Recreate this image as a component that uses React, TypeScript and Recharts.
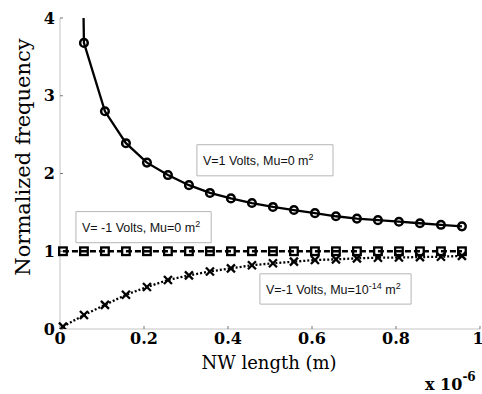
import React from "react";
import {
  LineChart,
  Line,
  XAxis,
  YAxis,
  ReferenceArea,
} from "recharts";

// NW length, in units of 1e-6 m
const lengths = [
  0.007, 0.057, 0.107, 0.157, 0.207, 0.257, 0.307, 0.357, 0.407, 0.457,
  0.507, 0.557, 0.607, 0.657, 0.707, 0.757, 0.807, 0.857, 0.907, 0.957,
];
// V=1 Volts, Mu=0
const posBias = [
  22, 3.68, 2.8, 2.39, 2.14, 1.98, 1.85, 1.75, 1.68, 1.62, 1.57, 1.53, 1.49,
  1.45, 1.42, 1.4, 1.38, 1.36, 1.34, 1.32,
];
// V=-1 Volts, Mu=0
const negBias = [
  1, 1, 1, 1, 1, 1, 1, 1, 1, 1, 1, 1, 1, 1, 1, 1, 1, 1, 1, 1,
];
// V=-1 Volts, Mu=1e-14
const negBiasMu = [
  0.03, 0.18, 0.31, 0.44, 0.54, 0.63, 0.69, 0.74, 0.78, 0.82, 0.845, 0.866,
  0.887, 0.896, 0.909, 0.917, 0.92, 0.925, 0.93, 0.94,
];
const xTicks = [0, 0.2, 0.4, 0.6, 0.8, 1];
const yTicks = [0, 1, 2, 3, 4];

const rows = lengths.map((x, i) => ({
  x,
  pos: posBias[i],
  neg: negBias[i],
  mu: negBiasMu[i],
}));

const tickFont = {
  fontFamily: "DejaVu Serif",
  fontWeight: "bold" as const,
  fontSize: 16,
  fill: "#000",
};

const Circle = (p: any) => (
  <circle cx={p.cx} cy={p.cy} r={3.8} fill="none" stroke="#000" strokeWidth={2.5} />
);
const Square = (p: any) => (
  <rect
    x={p.cx - 3.8}
    y={p.cy - 3.8}
    width={7.6}
    height={7.6}
    fill="none"
    stroke="#000"
    strokeWidth={2.3}
  />
);
const Cross = (p: any) => (
  <g stroke="#000" strokeWidth={2.3}>
    <line x1={p.cx - 4} y1={p.cy - 4} x2={p.cx + 4} y2={p.cy + 4} />
    <line x1={p.cx - 4} y1={p.cy + 4} x2={p.cx + 4} y2={p.cy - 4} />
  </g>
);

const boxLabel =
  (main: string, sup?: string, tail?: string) => (props: any) => {
    const { x, y, height } = props.viewBox;
    return (
      <text
        x={x + 6}
        y={y + height / 2 + 5}
        fontFamily="Liberation Sans"
        fontSize={12.5}
        fill="#111"
      >
        {main}
        {sup && (
          <tspan dy={-5} fontSize={9}>
            {sup}
          </tspan>
        )}
        {tail && <tspan dy={5}>{tail}</tspan>}
        <tspan dy={-5} fontSize={9}>
          2
        </tspan>
      </text>
    );
  };

const xLabel = (props: any) => {
  const { x, y, width } = props.viewBox;
  return (
    <g>
      <text
        x={x + width / 2 - 1}
        y={y + 40}
        textAnchor="middle"
        fontFamily="DejaVu Serif"
        fontSize={18}
        fill="#000"
      >
        NW length (m)
      </text>
      <text
        x={x + width - 55}
        y={y + 61}
        fontFamily="DejaVu Serif"
        fontWeight="bold"
        fontSize={16}
        fill="#000"
      >
        x 10
        <tspan dy={-9} fontSize={12}>
          -6
        </tspan>
      </text>
    </g>
  );
};

const yLabel = () => (
  <text
    transform="translate(30,157) rotate(-90)"
    textAnchor="middle"
    fontFamily="DejaVu Serif"
    fontSize={21}
    fill="#000"
  >
    Normalized frequency
  </text>
);

export default function App() {
  return (
    <div style={{ position: "absolute", left: 0, top: 0, background: "#fff" }}>
      <LineChart
        width={482}
        height={394}
        data={rows}
        margin={{ top: 18, right: 2, bottom: 35, left: 0 }}
      >
        <XAxis
          dataKey="x"
          type="number"
          domain={[0, 1]}
          ticks={xTicks}
          tickFormatter={(v: number) => String(v)}
          height={30}
          stroke="#c4c4c4"
          tickLine={{ stroke: "#777" }}
          tickSize={-3}
          tickMargin={7}
          tick={tickFont}
          label={xLabel}
        />
        <YAxis
          type="number"
          domain={[0, 4]}
          ticks={yTicks}
          allowDataOverflow
          width={60}
          stroke="#c4c4c4"
          tickLine={{ stroke: "#777" }}
          tickSize={-3}
          tickMargin={8}
          tick={tickFont}
          label={yLabel}
        />
        <ReferenceArea
          x1={0.326}
          x2={0.65}
          y1={1.97}
          y2={2.37}
          fill="#fff"
          fillOpacity={1}
          stroke="#b5b5b5"
          label={boxLabel("V=1 Volts, Mu=0 m")}
        />
        <ReferenceArea
          x1={0.038}
          x2={0.36}
          y1={1.11}
          y2={1.51}
          fill="#fff"
          fillOpacity={1}
          stroke="#b5b5b5"
          label={boxLabel("V= -1 Volts, Mu=0 m")}
        />
        <ReferenceArea
          x1={0.476}
          x2={0.836}
          y1={0.32}
          y2={0.71}
          fill="#fff"
          fillOpacity={1}
          stroke="#b5b5b5"
          label={boxLabel("V=-1 Volts, Mu=10", "-14", " m")}
        />
        <Line
          dataKey="pos"
          stroke="#000"
          strokeWidth={2.3}
          dot={<Circle />}
          isAnimationActive={false}
        />
        <Line
          dataKey="neg"
          stroke="#000"
          strokeWidth={2.3}
          strokeDasharray="6 3"
          dot={<Square />}
          isAnimationActive={false}
        />
        <Line
          dataKey="mu"
          stroke="#000"
          strokeWidth={2.3}
          strokeDasharray="2 2"
          dot={<Cross />}
          isAnimationActive={false}
        />
      </LineChart>
    </div>
  );
}
